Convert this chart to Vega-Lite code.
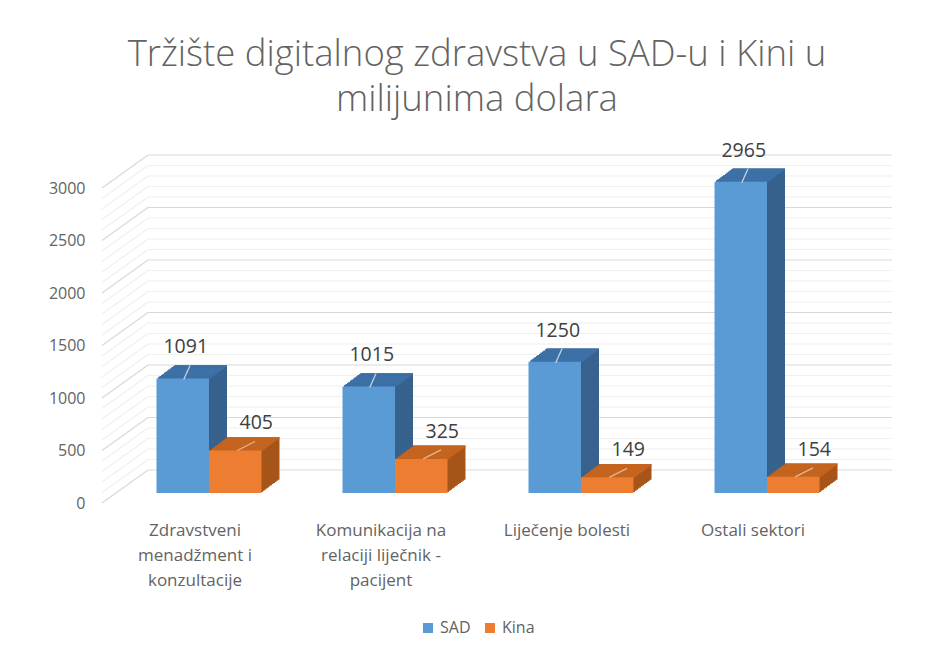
{"$schema":"https://vega.github.io/schema/vega-lite/v6.json","autosize":"none","width":744,"height":315,"padding":{"left":102,"top":188,"right":86,"bottom":151},"background":"#ffffff",
"title":{"text":["Tržište digitalnog zdravstva u SAD-u i Kini u","milijunima dolara"],"font":"Open Sans","fontWeight":300,"fontSize":36.5,"color":"#636363","lineHeight":45,"anchor":"middle","offset":22,"dx":3},
"config":{"view":{"stroke":null}},
"data":{"values":[
{"k":"Zdravstveni menadžment i konzultacije","s":"SAD","v":1091},{"k":"Zdravstveni menadžment i konzultacije","s":"Kina","v":405},
{"k":"Komunikacija na relaciji liječnik - pacijent","s":"SAD","v":1015},{"k":"Komunikacija na relaciji liječnik - pacijent","s":"Kina","v":325},
{"k":"Liječenje bolesti","s":"SAD","v":1250},{"k":"Liječenje bolesti","s":"Kina","v":149},
{"k":"Ostali sektori","s":"SAD","v":2965},{"k":"Ostali sektori","s":"Kina","v":154}]},
"resolve":{"scale":{"x":"independent"}},
"layer":[
{"data":{"values":[{"t":100,"m":0},{"t":200,"m":0},{"t":300,"m":0},{"t":400,"m":0},{"t":600,"m":0},{"t":700,"m":0},{"t":800,"m":0},{"t":900,"m":0},{"t":1100,"m":0},{"t":1200,"m":0},{"t":1300,"m":0},{"t":1400,"m":0},{"t":1600,"m":0},{"t":1700,"m":0},{"t":1800,"m":0},{"t":1900,"m":0},{"t":2100,"m":0},{"t":2200,"m":0},{"t":2300,"m":0},{"t":2400,"m":0},{"t":2600,"m":0},{"t":2700,"m":0},{"t":2800,"m":0},{"t":2900,"m":0},{"t":0,"m":1},{"t":500,"m":1},{"t":1000,"m":1},{"t":1500,"m":1},{"t":2000,"m":1},{"t":2500,"m":1},{"t":3000,"m":1}]},
"encoding":{"y":{"field":"t","type":"quantitative","scale":{"domain":[0,3000],"nice":false},"axis":{"values":[0,500,1000,1500,2000,2500,3000],"format":"d","title":null,"grid":false,"ticks":false,"domain":false,"labelPadding":17,"labelFont":"Open Sans","labelFontSize":16,"labelColor":"#636363"}},"stroke":{"condition":{"test":"datum.m==1","value":"#d9d9d9"},"value":"#f0f0f0"}},
"layer":[
{"mark":{"type":"rule","strokeWidth":1.2,"xOffset":46,"x2Offset":46,"yOffset":-33,"y2Offset":-33},"encoding":{"x":{"datum":0,"type":"quantitative","scale":{"domain":[0,1]},"axis":null},"x2":{"datum":1},"y2":{"field":"t"}}},
{"mark":{"type":"rule","strokeWidth":1.2,"x2Offset":46,"y2Offset":-33},"encoding":{"x":{"datum":0,"type":"quantitative","scale":{"domain":[0,1]},"axis":null},"x2":{"datum":0},"y2":{"field":"t"}}}
]},
{"resolve":{"scale":{"xOffset":"independent"}},"encoding":{"x":{"field":"k","type":"nominal","sort":null,"scale":{"paddingInner":0.4355,"paddingOuter":0.2177},"axis":{"title":null,"domain":false,"ticks":false,"labelAngle":0,"labelPadding":19,"labelFont":"Open Sans","labelFontSize":17,"labelColor":"#636363","labelLineHeight":25,"labelBaseline":"top","labelLimit":300,"labelExpr":"datum.label=='Zdravstveni menadžment i konzultacije'?['Zdravstveni','menadžment i','konzultacije']:datum.label=='Komunikacija na relaciji liječnik - pacijent'?['Komunikacija na','relaciji liječnik -','pacijent']:datum.label"}},"y":{"field":"v","type":"quantitative"}},
"layer":[
{"resolve":{"scale":{"xOffset":"independent"}},"encoding":{"fill":{"condition":{"test":"datum.s=='SAD'","value":"#36628d"},"value":"#a75519"}},"layer":[
{"mark":{"type":"bar","yOffset":-23.3,"y2Offset":-23.3},"encoding":{"xOffset":{"field":"s","sort":["SAD","Kina"],"scale":{"range":[32,137]}}}},
{"mark":{"type":"bar","yOffset":-22.2,"y2Offset":-22.2},"encoding":{"xOffset":{"field":"s","sort":["SAD","Kina"],"scale":{"range":[30.5,135.5]}}}},
{"mark":{"type":"bar","yOffset":-21.1,"y2Offset":-21.1},"encoding":{"xOffset":{"field":"s","sort":["SAD","Kina"],"scale":{"range":[29,134]}}}},
{"mark":{"type":"bar","yOffset":-20,"y2Offset":-20},"encoding":{"xOffset":{"field":"s","sort":["SAD","Kina"],"scale":{"range":[27.5,132.5]}}}},
{"mark":{"type":"bar","yOffset":-18.9,"y2Offset":-18.9},"encoding":{"xOffset":{"field":"s","sort":["SAD","Kina"],"scale":{"range":[26,131]}}}},
{"mark":{"type":"bar","yOffset":-17.8,"y2Offset":-17.8},"encoding":{"xOffset":{"field":"s","sort":["SAD","Kina"],"scale":{"range":[24.5,129.5]}}}},
{"mark":{"type":"bar","yOffset":-16.7,"y2Offset":-16.7},"encoding":{"xOffset":{"field":"s","sort":["SAD","Kina"],"scale":{"range":[23,128]}}}},
{"mark":{"type":"bar","yOffset":-15.6,"y2Offset":-15.6},"encoding":{"xOffset":{"field":"s","sort":["SAD","Kina"],"scale":{"range":[21.5,126.5]}}}},
{"mark":{"type":"bar","yOffset":-14.4,"y2Offset":-14.4},"encoding":{"xOffset":{"field":"s","sort":["SAD","Kina"],"scale":{"range":[20,125]}}}},
{"mark":{"type":"bar","yOffset":-13.3,"y2Offset":-13.3},"encoding":{"xOffset":{"field":"s","sort":["SAD","Kina"],"scale":{"range":[18.5,123.5]}}}},
{"mark":{"type":"bar","yOffset":-12.2,"y2Offset":-12.2},"encoding":{"xOffset":{"field":"s","sort":["SAD","Kina"],"scale":{"range":[17,122]}}}},
{"mark":{"type":"bar","yOffset":-11.1,"y2Offset":-11.1},"encoding":{"xOffset":{"field":"s","sort":["SAD","Kina"],"scale":{"range":[15.5,120.5]}}}}
]},
{"resolve":{"scale":{"xOffset":"independent"}},"encoding":{"y2":{"field":"v"},"fill":{"condition":{"test":"datum.s=='SAD'","value":"#3c71a6"},"value":"#c4641f"}},"layer":[
{"mark":{"type":"bar","yOffset":-23.3,"y2Offset":-21.7},"encoding":{"xOffset":{"field":"s","sort":["SAD","Kina"],"scale":{"range":[32,137]}}}},
{"mark":{"type":"bar","yOffset":-22.2,"y2Offset":-20.6},"encoding":{"xOffset":{"field":"s","sort":["SAD","Kina"],"scale":{"range":[30.5,135.5]}}}},
{"mark":{"type":"bar","yOffset":-21.1,"y2Offset":-19.5},"encoding":{"xOffset":{"field":"s","sort":["SAD","Kina"],"scale":{"range":[29,134]}}}},
{"mark":{"type":"bar","yOffset":-20,"y2Offset":-18.4},"encoding":{"xOffset":{"field":"s","sort":["SAD","Kina"],"scale":{"range":[27.5,132.5]}}}},
{"mark":{"type":"bar","yOffset":-18.9,"y2Offset":-17.3},"encoding":{"xOffset":{"field":"s","sort":["SAD","Kina"],"scale":{"range":[26,131]}}}},
{"mark":{"type":"bar","yOffset":-17.8,"y2Offset":-16.2},"encoding":{"xOffset":{"field":"s","sort":["SAD","Kina"],"scale":{"range":[24.5,129.5]}}}},
{"mark":{"type":"bar","yOffset":-16.7,"y2Offset":-15.1},"encoding":{"xOffset":{"field":"s","sort":["SAD","Kina"],"scale":{"range":[23,128]}}}},
{"mark":{"type":"bar","yOffset":-15.6,"y2Offset":-14},"encoding":{"xOffset":{"field":"s","sort":["SAD","Kina"],"scale":{"range":[21.5,126.5]}}}},
{"mark":{"type":"bar","yOffset":-14.4,"y2Offset":-12.8},"encoding":{"xOffset":{"field":"s","sort":["SAD","Kina"],"scale":{"range":[20,125]}}}},
{"mark":{"type":"bar","yOffset":-13.3,"y2Offset":-11.7},"encoding":{"xOffset":{"field":"s","sort":["SAD","Kina"],"scale":{"range":[18.5,123.5]}}}},
{"mark":{"type":"bar","yOffset":-12.2,"y2Offset":-10.6},"encoding":{"xOffset":{"field":"s","sort":["SAD","Kina"],"scale":{"range":[17,122]}}}},
{"mark":{"type":"bar","yOffset":-11.1,"y2Offset":-9.5},"encoding":{"xOffset":{"field":"s","sort":["SAD","Kina"],"scale":{"range":[15.5,120.5]}}}}
]},
{"mark":{"type":"bar","yOffset":-10,"y2Offset":-10},"encoding":{"xOffset":{"field":"s","sort":["SAD","Kina"],"scale":{"range":[14,119]}},"color":{"field":"s","type":"nominal","sort":["SAD","Kina"],"scale":{"domain":["SAD","Kina"],"range":["#5b9bd5","#ed7d31"]},"legend":{"title":null,"orient":"none","legendX":318,"legendY":432,"direction":"horizontal","symbolType":"square","symbolSize":100,"labelFont":"Open Sans","labelFontSize":16,"labelColor":"#636363","columnPadding":11,"labelOffset":4}}}},
{"transform":[{"filter":"datum.s=='SAD'"}],"mark":{"type":"rule","stroke":"#c5d3e0","strokeWidth":1.3,"x2Offset":-5,"yOffset":-9,"y2Offset":-23},"encoding":{"xOffset":{"field":"s","sort":["SAD","Kina"],"scale":{"domain":["SAD","Kina"],"range":[15,120]}},"x2":{"field":"k"},"y2":{"field":"v"}}},
{"transform":[{"filter":"datum.s=='Kina'"}],"mark":{"type":"rule","stroke":"#e8b48c","strokeWidth":1.3,"x2Offset":60,"yOffset":-10,"y2Offset":-19},"encoding":{"xOffset":{"field":"s","sort":["SAD","Kina"],"scale":{"domain":["SAD","Kina"],"range":[16,121]}},"x2":{"field":"k"},"y2":{"field":"v"}}},
{"transform":[{"filter":"datum.s=='SAD'"}],"mark":{"type":"text","font":"Open Sans","fontSize":19.5,"color":"#404040","dx":17,"dy":-41,"baseline":"middle"},"encoding":{"xOffset":{"field":"s","sort":["SAD","Kina"],"scale":{"domain":["SAD","Kina"],"range":[0,105]}},"text":{"field":"v","type":"quantitative","format":"d"}}},
{"transform":[{"filter":"datum.s=='Kina'"}],"mark":{"type":"text","font":"Open Sans","fontSize":19.5,"color":"#404040","dx":35,"dy":-37,"baseline":"middle"},"encoding":{"xOffset":{"field":"s","sort":["SAD","Kina"],"scale":{"domain":["SAD","Kina"],"range":[0,105]}},"text":{"field":"v","type":"quantitative","format":"d"}}}
]}
]}
